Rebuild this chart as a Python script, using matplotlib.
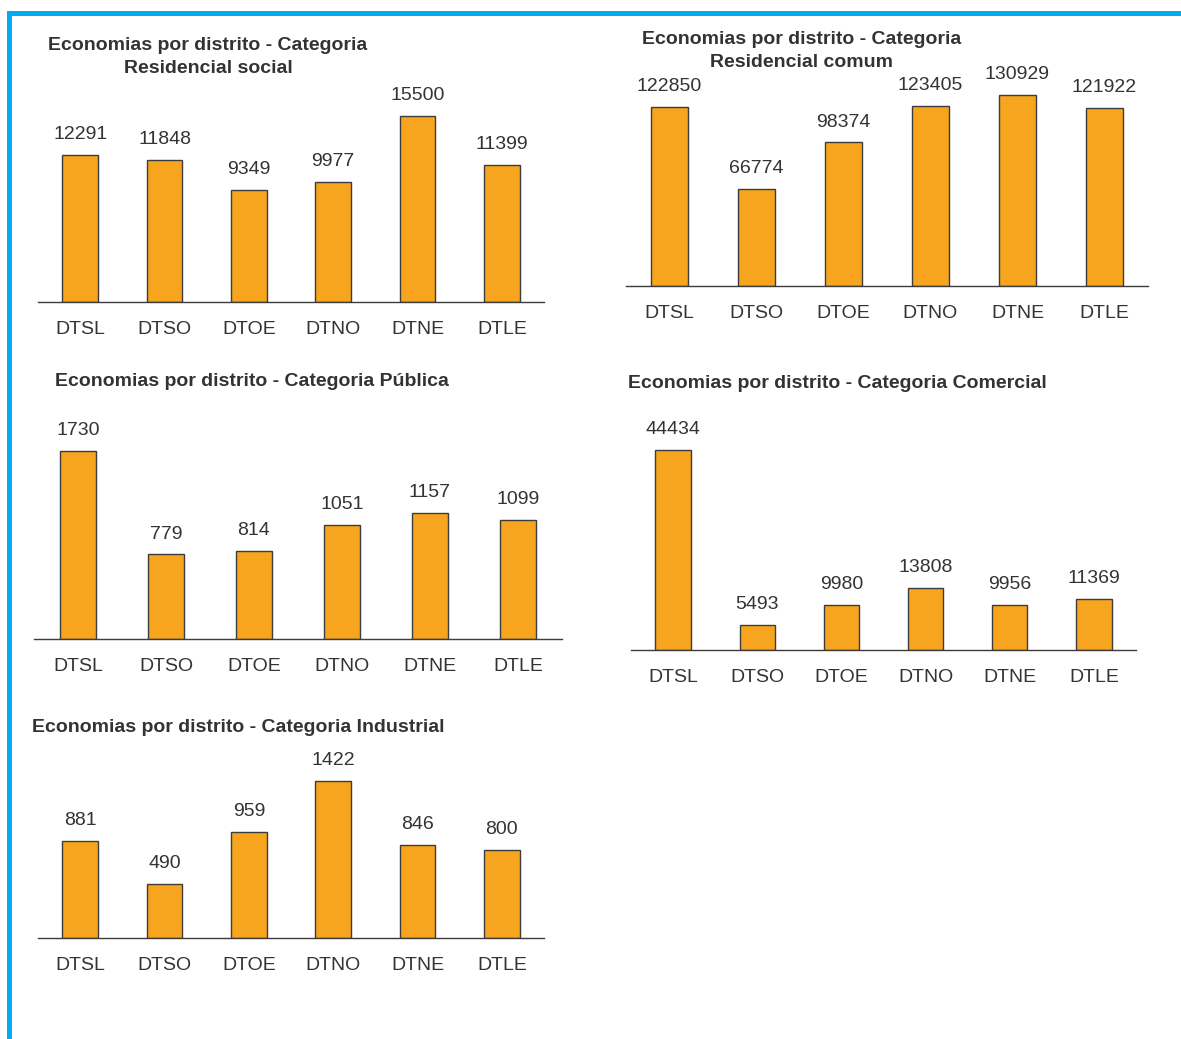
import matplotlib
matplotlib.use('Agg')
import matplotlib.pyplot as plt
from matplotlib.patches import Rectangle

plt.rcParams['font.family'] = ['Liberation Sans', 'DejaVu Sans']

W, H = 1181, 1039

districts = ['DTSL', 'DTSO', 'DTOE', 'DTNO', 'DTNE', 'DTLE']

res_social = [12291, 11848, 9349, 9977, 15500, 11399]
res_comum = [122850, 66774, 98374, 123405, 130929, 121922]
publica = [1730, 779, 814, 1051, 1157, 1099]
comercial = [44434, 5493, 9980, 13808, 9956, 11369]
industrial = [881, 490, 959, 1422, 846, 800]

titles = ['Economias por distrito - Categoria\nResidencial social',
          'Economias por distrito - Categoria\nResidencial comum',
          'Economias por distrito - Categoria Pública',
          'Economias por distrito - Categoria Comercial',
          'Economias por distrito - Categoria Industrial']

bar_col = '#F7A51E'
edge_col = '#3C3C3C'
txt_col = '#333333'

fig = plt.figure(figsize=(W / 100, H / 100), dpi=100)
fig.patch.set_facecolor('white')

# blue frame (top + left)
fig.add_artist(Rectangle((7 / W, 1 - 16 / H), (W - 7) / W, 5 / H,
                         transform=fig.transFigure, color='#00AEEF', lw=0))
fig.add_artist(Rectangle((7 / W, 0), 5 / W, 1 - 11 / H,
                         transform=fig.transFigure, color='#00AEEF', lw=0))


def panel(vals, title, x0, x1, base, top_px, ymax, tx, ty):
    # axes placed in pixel coords: x0..x1 wide, baseline at 'base', top at 'top_px'
    ax = fig.add_axes([x0 / W, 1 - base / H, (x1 - x0) / W, (base - top_px) / H])
    x = range(len(districts))
    ax.bar(x, vals, width=0.42, color=bar_col, edgecolor=edge_col, linewidth=1)
    for i, v in enumerate(vals):
        ax.annotate(str(v), (i, v), xytext=(0, 8.5), textcoords='offset points',
                    ha='center', va='bottom', fontsize=14, color=txt_col)
    ax.set_xlim(-0.5, 5.5)
    ax.set_ylim(0, ymax)
    ax.set_xticks(list(x))
    ax.set_xticklabels(districts, fontsize=14, color=txt_col)
    ax.tick_params(axis='x', length=0, pad=13.5)
    ax.set_yticks([])
    for s in ['top', 'left', 'right']:
        ax.spines[s].set_visible(False)
    ax.spines['bottom'].set_color(edge_col)
    ax.spines['bottom'].set_linewidth(1)
    ax.patch.set_alpha(0)
    fig.text(tx / W, 1 - ty / H, title, ha='center', va='center',
             fontsize=14, fontweight='bold', color=txt_col, linespacing=1.45)
    return ax


# baseline pixel, pixel of tallest bar top -> ymax so bar heights match
def lim(vals, base, top_bar, top_px):
    return max(vals) * (base - top_px) / (base - top_bar)


panel(res_social, titles[0], 38, 544, 302, 100, lim(res_social, 302, 116, 100), 208, 57)
panel(res_comum, titles[1], 626, 1148, 286, 80, lim(res_comum, 286, 95, 80), 802, 51)
panel(publica, titles[2], 34, 562, 639, 420, lim(publica, 639, 451, 420), 252, 382)
panel(comercial, titles[3], 631, 1136, 650, 420, lim(comercial, 650, 450, 420), 837, 383)
panel(industrial, titles[4], 38, 544, 938, 740, lim(industrial, 938, 781, 740), 238, 727)

fig.savefig('out.png', dpi=100)
